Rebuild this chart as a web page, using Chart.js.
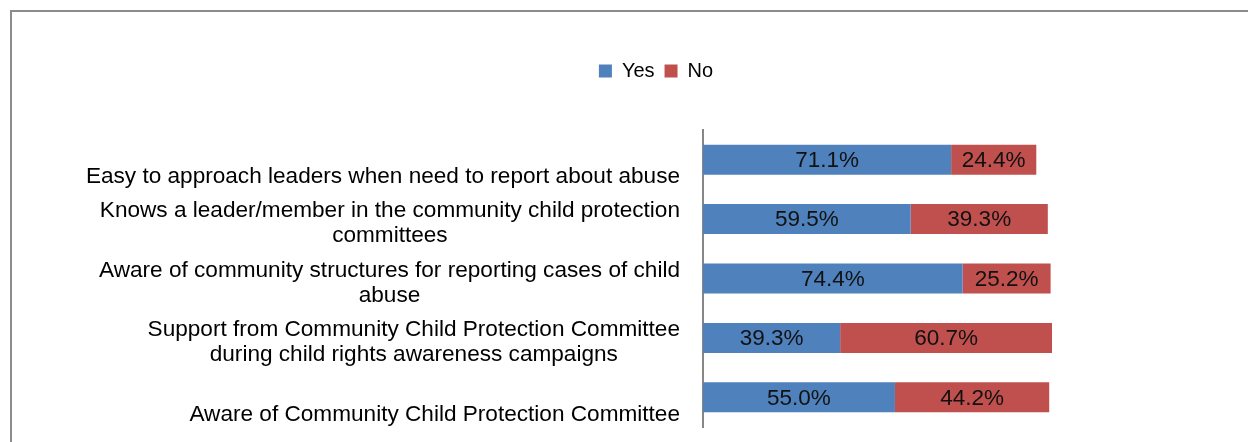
<!DOCTYPE html>
<html>
<head>
<meta charset="utf-8">
<script src="https://cdn.jsdelivr.net/npm/chart.js@4.4.1/dist/chart.umd.min.js"></script>
<style>
  html, body { margin: 0; padding: 0; background: #ffffff; }
  #wrap { position: relative; width: 1248px; height: 442px; overflow: hidden; }
  #frame { position: absolute; left: 10px; top: 10px; width: 1300px; height: 500px;
           border-left: 2px solid #8c8c8c; border-top: 2px solid #8c8c8c; box-sizing: border-box; }
  canvas { position: absolute; left: 0; top: 0; }
</style>
</head>
<body>
<div id="wrap">
  <div id="frame"></div>
  <canvas id="c" width="1248" height="442"></canvas>
</div>
<script>
// ---- data ----
const categories = [
  ['Easy to approach leaders when need to report about abuse'],
  ['Knows a leader/member in the community child protection', 'committees'],
  ['Aware of community structures for reporting cases of child', 'abuse'],
  ['Support from Community Child Protection Committee', 'during child rights awareness campaigns'],
  ['Aware of Community Child Protection Committee']
];
const seriesNames = ['Yes', 'No'];
const yesValues = [71.1, 59.5, 74.4, 39.3, 55.0];
const noValues  = [24.4, 39.3, 25.2, 60.7, 44.2];
const axisMax = 100;

// ---- styles ----
const FONT = "'Liberation Sans', Arial, sans-serif";
const BLUE = '#4F81BD';
const RED = '#C0504D';

// category labels: block right-aligned, lines centred within block
const categoryLabels = {
  id: 'categoryLabels',
  afterDraw(chart) {
    const ctx = chart.ctx;
    const y = chart.scales.y;
    const right = 680;
    const lh = 25;
    ctx.save();
    ctx.font = '22.6px ' + FONT;
    ctx.fillStyle = '#000';
    ctx.textAlign = 'center';
    ctx.textBaseline = 'middle';
    categories.forEach((lines, i) => {
      const cy = y.getPixelForValue(i) + 4.5 + (lines.length === 1 ? lh / 2 : 0);
      const maxW = Math.max(...lines.map(l => ctx.measureText(l).width));
      const cx = right - maxW / 2;
      const top = cy - (lines.length - 1) * lh / 2;
      lines.forEach((l, k) => ctx.fillText(l, cx, top + k * lh));
    });
    ctx.restore();
  }
};

// value labels centred in each bar segment
const valueLabels = {
  id: 'valueLabels',
  afterDatasetsDraw(chart) {
    const ctx = chart.ctx;
    ctx.save();
    ctx.font = '22.5px ' + FONT;
    ctx.fillStyle = '#111';
    ctx.textAlign = 'center';
    ctx.textBaseline = 'middle';
    chart.data.datasets.forEach((ds, di) => {
      chart.getDatasetMeta(di).data.forEach((bar, i) => {
        const p = bar.getCenterPoint();
        ctx.fillText(ds.data[i].toFixed(1) + '%', p.x, p.y + 1);
      });
    });
    ctx.restore();
  }
};

new Chart(document.getElementById('c'), {
  type: 'bar',
  data: {
    labels: categories,
    datasets: [
      { label: seriesNames[0], data: yesValues, backgroundColor: BLUE, borderWidth: 0 },
      { label: seriesNames[1], data: noValues, backgroundColor: RED, borderWidth: 0 }
    ]
  },
  options: {
    indexAxis: 'y',
    responsive: false,
    animation: false,
    devicePixelRatio: 1,
    layout: { padding: { top: 51, left: 260, right: 196, bottom: 15 } },
    datasets: { bar: { categoryPercentage: 1, barPercentage: 0.505 } },
    plugins: {
      legend: {
        position: 'top',
        labels: { font: { family: FONT, size: 20 }, color: '#000', boxWidth: 13, boxHeight: 13, padding: 10 }
      },
      tooltip: { enabled: false }
    },
    scales: {
      x: {
        stacked: true, min: 0, max: axisMax, position: 'top',
        ticks: { display: false }, grid: { display: false }, border: { display: false },
        afterFit(s) { s.height = 39; }
      },
      y: {
        stacked: true,
        ticks: { display: false }, grid: { display: false },
        border: { display: true, color: '#878787', width: 2 },
        afterFit(s) { s.width = 443; }
      }
    }
  },
  plugins: [categoryLabels, valueLabels]
});
</script>
</body>
</html>
